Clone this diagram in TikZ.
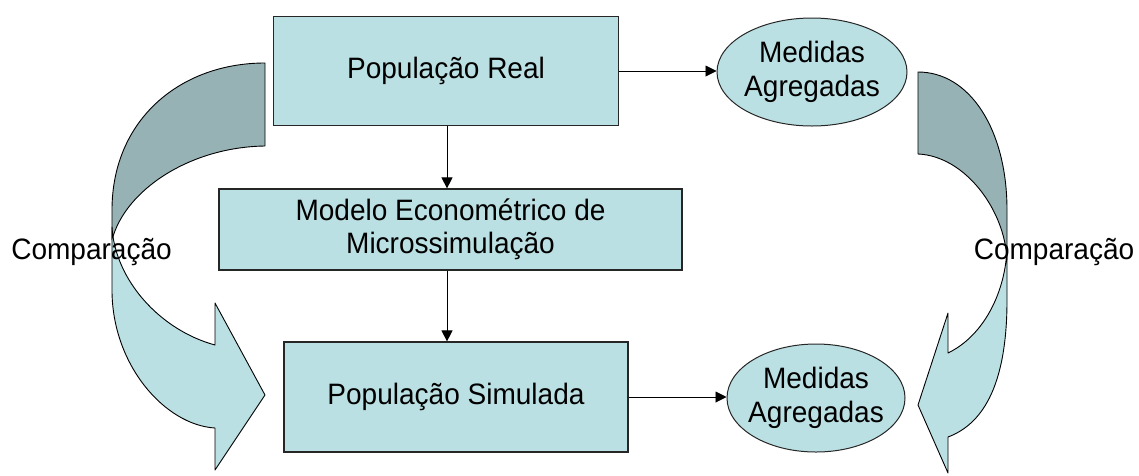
\documentclass[tikz,border=0pt]{standalone}
\usepackage{fontspec}
\setmainfont{Liberation Sans}[FakeStretch=0.95]
\usetikzlibrary{shapes.geometric,arrows.meta}
\definecolor{ciano}{RGB}{187,224,227}
\definecolor{cianoescuro}{RGB}{150,178,180}
\tikzset{
  caixa/.style={draw=black!85, line width=1.2pt, fill=ciano, inner sep=0pt, align=center, font=\fontsize{29.5}{33}\selectfont},
  elipse/.style={ellipse, draw=black!85, line width=1pt, fill=ciano, inner sep=0pt},
  seta/.style={-{Triangle[length=11pt,width=11pt]}, line width=0.9pt},
  curva/.style={draw=black, line width=0.9pt, line join=round},
  rotulo/.style={font=\fontsize{29.5}{34}\selectfont}
}
\begin{document}
\begin{tikzpicture}[x=1pt,y=-1pt]
\useasboundingbox (0,0) rectangle (1139,475);
\path[curva, fill=cianoescuro] (265,63) .. controls (180,63) and (112,120) .. (112,210) -- (112,240) .. controls (125,190) and (190,147) .. (265,146) -- cycle;
\path[curva, fill=ciano] (112,227) -- (112,290) .. controls (112,365) and (165,425) .. (215,428) -- (215,470) -- (265,395) -- (215,303) -- (215,345) .. controls (160,330) and (115,280) .. (112,227) -- cycle;
\path[curva, fill=cianoescuro] (918,72) .. controls (970,72) and (1007,130) .. (1007,210) -- (1007,260) .. controls (1005,210) and (965,156) .. (918,154) -- cycle;
\path[curva, fill=ciano] (1007,247) -- (1007,300) .. controls (1007,390) and (980,425) .. (948,437) -- (948,473) -- (918,405) -- (948,313) -- (948,353) .. controls (985,335) and (1006,290) .. (1007,247) -- cycle;
\node[caixa, minimum width=345pt, minimum height=109pt] (real) at (446,71) {População Real};
\node[caixa, minimum width=463pt, minimum height=81pt] (modelo) at (450.5,229.5) {Modelo Econométrico de\\Microssimulação};
\node[caixa, minimum width=344pt, minimum height=110pt] (simulada) at (456,397) {População Simulada};
\node[elipse, minimum width=190pt, minimum height=108pt, label={[rotulo, align=center]center:Medidas\\Agregadas}] (medreal) at (812,72) {};
\node[elipse, minimum width=178pt, minimum height=108pt, label={[rotulo, align=center]center:Medidas\\Agregadas}] (medsim) at (816,398) {};
\node[rotulo, anchor=base] (compesq) at (91.5,259) {Comparação};
\node[rotulo, anchor=base] (compdir) at (1054,259) {Comparação};
\draw[seta] (real.east) -- (real.east -| medreal.west);
\draw[seta] (simulada.east) -- (simulada.east -| medsim.west);
\draw[seta] ([xshift=1pt]real.south) -- ([xshift=1pt]real.south |- modelo.north);
\draw[seta] ([xshift=1pt]real.south |- modelo.south) -- ([xshift=1pt]real.south |- simulada.north);
\end{tikzpicture}
\end{document}
